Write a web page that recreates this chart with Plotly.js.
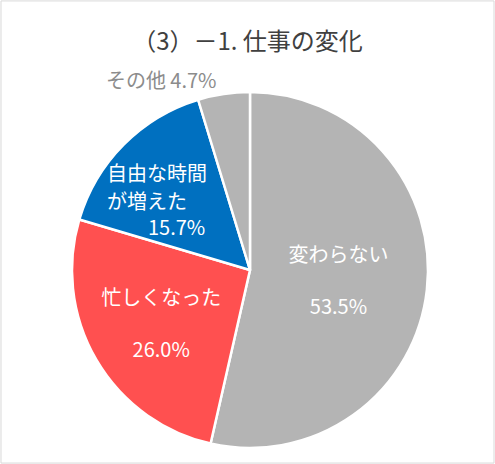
<!DOCTYPE html>
<html>
<head>
<meta charset="utf-8">
<script src="https://cdn.plot.ly/plotly-3.0.1.min.js"></script>
<style>
  html, body { margin: 0; padding: 0; background: #fff; }
  #plot { width: 495px; height: 464px; }
</style>
</head>
<body>
<div id="plot"></div>
<script>
// values (percent)
const categories = ['変わらない', '忙しくなった', '自由な時間<br>が増えた', 'その他'];
const shares = [53.5, 26.0, 15.7, 4.7];
const sliceColors = ['#B4B4B4', '#FF5050', '#0070C0', '#B4B4B4'];

const fontFamily = '"Noto Sans CJK JP", sans-serif';

// the blue slice is narrow: plotly would shrink its label, so it goes in annotations
const templates = [
  '%{label}<br><br>%{value:.1f}%',
  '%{label}<br><br>%{value:.1f}%',
  '',
  '%{label} %{value:.1f}%'
];

let trace = {
  type: 'pie',
  labels: categories,
  values: shares,
  sort: false,
  direction: 'clockwise',
  rotation: 0,
  marker: {colors: sliceColors, line: {color: '#ffffff', width: 2.5}},
  texttemplate: templates,
  textposition: ['inside', 'inside', 'inside', 'outside'],
  insidetextorientation: 'horizontal',
  textfont: {
    family: fontFamily,
    size: [20, 20, 20, 20],
    color: ['#fff', '#fff', '#fff', '#8C8C8C']
  },
  hoverinfo: 'none',
  showlegend: false,
  domain: {x: [0.1455, 0.8646], y: [0.0345, 0.8017]}
};

// one annotation per line of the blue label
let blueLines = categories[2].split('<br>');
let blueLabel = function (text, x, y, anchor) {
  return {
    xref: 'paper', yref: 'paper', x: x, y: y,
    xanchor: anchor, yanchor: 'middle', showarrow: false,
    text: text,
    font: {family: fontFamily, size: 20, color: '#ffffff'}
  };
};

let layout = {
  width: 495,
  height: 464,
  margin: {l: 0, r: 0, t: 0, b: 0},
  paper_bgcolor: '#ffffff',
  title: {
    text: '（3）－1. 仕事の変化',
    font: {family: fontFamily, size: 24, color: '#404040'},
    x: 0.5, xanchor: 'center', y: 0.91, yanchor: 'middle'
  },
  annotations: [
    blueLabel(blueLines[0], 0.212, 0.629, 'left'),
    blueLabel(blueLines[1], 0.212, 0.567, 'left'),
    blueLabel(shares[2].toFixed(1) + '%', 0.418, 0.511, 'right')
  ],
  shapes: [{
    type: 'rect', xref: 'paper', yref: 'paper',
    x0: 0.002, x1: 0.998, y0: 0.002, y1: 0.998,
    line: {color: '#D9D9D9', width: 1}
  }]
};

Plotly.newPlot('plot', [trace], layout, {displayModeBar: false, staticPlot: true});
</script>
</body>
</html>
